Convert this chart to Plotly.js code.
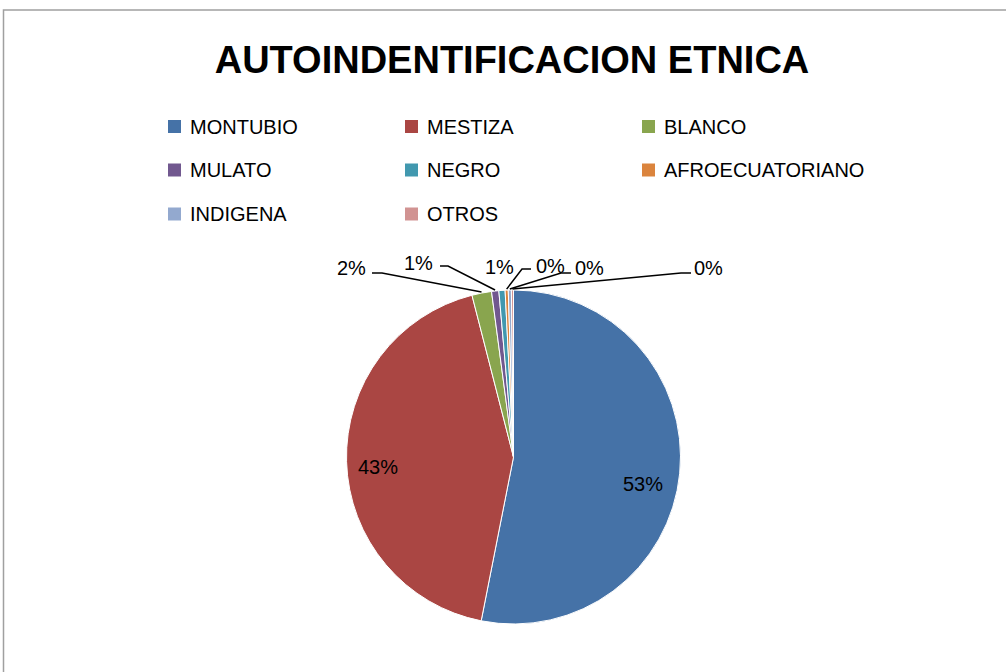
<!DOCTYPE html>
<html>
<head>
<meta charset="utf-8">
<script src="https://cdn.plot.ly/plotly-3.0.1.min.js"></script>
<style>html,body{margin:0;padding:0;background:#fff;}#chart{width:1006px;height:672px;}</style>
</head>
<body>
<div id="chart"></div>
<script>
const categories = ["MONTUBIO", "MESTIZA", "BLANCO", "MULATO", "NEGRO", "AFROECUATORIANO", "INDIGENA", "OTROS"];
const values = [53.1, 42.9, 1.9, 0.7, 0.6, 0.3, 0.3, 0.2];
const colors = ["#4572A7", "#AA4643", "#89A54E", "#71588F", "#4198AF", "#DB843D", "#93A9CF", "#D19392"];
const chartTitle = "AUTOINDENTIFICACION ETNICA";

const W = 1006, H = 672;
const px = x => x / W;
const py = y => 1 - y / H;

// pie geometry (layout)
const cx = 513.5, cy = 457, R = 167;

const total = values.reduce((a, b) => a + b, 0);
const pct = values.map(v => Math.round(v / total * 100) + "%");
const cum = [];
let acc = 0;
values.forEach(v => { cum.push(acc + v / 2); acc += v; });
const midAngle = i => 2 * Math.PI * cum[i] / total;

const labelFont = {family: "Liberation Sans, Arial, sans-serif", size: 20, color: "#000"};

// legend layout (3 columns)
const legCols = [168, 405, 642];
const legRows = [126.5, 170, 214];
const shapes = [];
const annotations = [];
categories.forEach((c, i) => {
  const x = legCols[i % 3], y = legRows[Math.floor(i / 3)];
  shapes.push({type: "rect", xref: "paper", yref: "paper",
    x0: px(x), x1: px(x + 13), y0: py(y - 6.5), y1: py(y + 6.5),
    fillcolor: colors[i], line: {width: 0}});
  annotations.push({xref: "paper", yref: "paper", x: px(x + 20), y: py(y),
    xanchor: "left", yanchor: "middle", showarrow: false, text: c, font: labelFont});
});

// inside labels for the two large slices
[[0, 0.78, 14], [1, 0.81, 6]].forEach(([i, f, dy]) => {
  const th = midAngle(i);
  annotations.push({xref: "paper", yref: "paper",
    x: px(cx + f * R * Math.sin(th)), y: py(cy - f * R * Math.cos(th) + dy),
    xanchor: "center", yanchor: "middle", showarrow: false, text: pct[i], font: labelFont});
});

// outside labels for small slices: [index, labelX, labelY, leader path (elbow,end) or null]
const outside = [
  [2, 351, 268, [[382, 273], [372, 273]]],
  [3, 418, 263, [[448, 266], [440, 266]]],
  [4, 499, 267, null],
  [5, 550, 266, [[522, 269], [531, 269]]],
  [6, 589, 268, [[561, 273], [571, 273]]],
  [7, 708, 268, [[681, 273], [691, 273]]]
];
outside.forEach(([i, lx, ly, path]) => {
  annotations.push({xref: "paper", yref: "paper", x: px(lx), y: py(ly),
    xanchor: "center", yanchor: "middle", showarrow: false, text: pct[i], font: labelFont});
  if (path) {
    const th = midAngle(i);
    const ex = cx + (R + 1) * Math.sin(th), ey = cy - (R + 1) * Math.cos(th);
    const pts = [[ex, ey]].concat(path);
    const d = pts.map((p, k) => (k ? "L" : "M") + px(p[0]).toFixed(5) + "," + py(p[1]).toFixed(5)).join(" ");
    shapes.push({type: "path", xref: "paper", yref: "paper", path: d, line: {color: "#000", width: 1.5}});
  }
});

// chart frame
shapes.push({type: "rect", xref: "paper", yref: "paper",
  x0: px(3.5), x1: px(1012), y0: py(10), y1: py(690),
  line: {color: "#a0a0a0", width: 1.5}, fillcolor: "rgba(0,0,0,0)", layer: "below"});

const trace = {
  type: "pie",
  labels: categories,
  values: values,
  marker: {colors: colors, line: {width: 1, color: "#fff"}},
  sort: false,
  direction: "clockwise",
  rotation: 0,
  textinfo: "none",
  hoverinfo: "label+percent",
  showlegend: false,
  domain: {x: [px(cx - R), px(cx + R)], y: [py(cy + R), py(cy - R)]}
};

const layout = {
  width: W, height: H,
  margin: {l: 0, r: 0, t: 0, b: 0},
  paper_bgcolor: "#fff",
  title: {text: "<b>" + chartTitle + "</b>", x: px(512), y: py(60), xanchor: "center", yanchor: "middle",
    font: {family: "Liberation Sans, Arial, sans-serif", size: 38, color: "#000"}},
  shapes: shapes,
  annotations: annotations,
  showlegend: false
};

Plotly.newPlot("chart", [trace], layout, {displayModeBar: false, staticPlot: true});
</script>
</body>
</html>
